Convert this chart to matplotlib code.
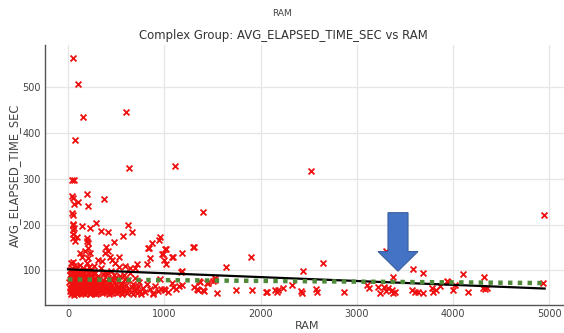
import matplotlib
matplotlib.use("Agg")
import matplotlib.pyplot as plt
from matplotlib.patches import FancyArrow

# ---- data ----
sparse_x = [52, 104, 156, 73, 602, 633, 1111, 40, 60, 2523,
            42, 52, 197, 104, 62, 208, 374, 42, 52, 52, 55, 60, 48, 50,
            145, 228, 291, 343, 415, 623, 664, 571, 197,
            52, 73, 94, 197, 208, 208, 228, 176, 478, 395, 415, 384, 436, 457,
            311, 530, 592, 716, 125, 145, 208, 353, 488, 644, 696,
            820, 945, 1007, 1090, 1184, 1308, 841, 872, 851, 987, 1184,
            1402, 955, 830, 1018, 976, 1298, 1080, 997, 1018, 1641, 1900, 1173,
            1360, 1454, 1527, 1527, 1308, 1350, 1402, 1547, 1745, 1911, 2066,
            883, 966, 1007, 1090, 1153, 1184, 1340, 1371, 1443, 1506, 1412,
            2648, 2440, 2326, 2056, 2150, 2170, 2180, 2233, 2420, 2430,
            2575, 2586, 2866, 3105, 3126, 3219, 3240, 3281, 3302, 3323,
            3364, 3375, 3396, 3375, 3300,
            3583, 3686, 4100, 4320, 4932, 3935, 3946, 3572, 3603, 3634, 3686,
            3780, 3790, 3821, 3863, 3998, 4018, 4154, 4310, 4330, 4351, 4943]
sparse_y = [565, 507, 435, 385, 446, 324, 328, 297, 297, 317,
            263, 259, 267, 250, 246, 241, 256, 226, 220, 202, 198, 193, 189, 180,
            196, 193, 204, 185, 183, 198, 183, 176, 170,
            170, 165, 172, 165, 159, 148, 137, 143, 161, 150, 143, 137, 128, 122,
            122, 128, 109, 113, 137, 128, 126, 120, 117, 104, 104,
            113, 167, 146, 128, 137, 150, 148, 159, 126, 135, 98,
            228, 172, 148, 146, 135, 150, 128, 122, 113, 107, 128, 96,
            76, 72, 78, 83, 63, 57, 57, 50, 57, 57, 52,
            50, 59, 57, 63, 65, 67, 59, 74, 72, 76, 54,
            115, 98, 67, 52, 57, 52, 57, 61, 54, 50,
            59, 52, 52, 67, 61, 63, 50, 63, 54, 61,
            57, 50, 52, 85, 143,
            102, 93, 91, 85, 72, 76, 74, 57, 52, 52, 50,
            61, 52, 57, 65, 57, 67, 52, 61, 59, 61, 222]

dense_x = [20, 25, 30, 35, 40, 45, 50, 55, 60, 65, 70, 75, 80, 85, 90, 95, 100,
           22, 28, 33, 38, 42, 48, 52, 58, 62, 68, 72, 78, 82, 88, 92, 98,
           105, 110, 115, 120, 125, 130, 135, 140, 145, 150, 155, 160, 165, 170,
           175, 180, 185, 190, 195, 200, 205, 210, 215, 220, 225, 230, 235, 240,
           245, 250, 255, 260, 265, 270, 275, 280, 285, 290, 295, 300, 310, 320,
           330, 340, 350, 360, 370, 380, 390, 400, 410, 420, 430, 440, 450, 460,
           470, 480, 490, 500, 510, 520, 530, 540, 550, 560, 570, 580, 590, 600,
           610, 620, 630, 640, 650, 660, 670, 680, 690, 700, 710, 720, 730, 740,
           750, 760, 780, 800, 820, 850, 880, 900, 930, 960, 1000, 1040, 1080, 1120,
           15, 18, 26, 32, 36, 44, 46, 54, 56, 64, 66, 74, 76, 84, 86, 94, 96,
           102, 108, 112, 118, 122, 128, 132, 138, 142, 148, 152, 158, 162, 168,
           172, 178, 182, 188, 192, 198, 202, 208, 212, 218, 222, 228, 232, 238,
           242, 248, 252, 258, 262, 268, 272, 278, 282, 288, 292, 298, 305, 315,
           325, 335, 345, 355, 365, 375, 385, 395, 405, 415, 425, 435, 445, 455,
           465, 475, 485, 495, 505, 515, 525, 535, 545, 555, 565, 575, 585, 595]
dense_y = [55, 62, 70, 48, 80, 58, 95, 66, 52, 110, 75, 60, 88, 50, 68, 105, 57,
           90, 115, 100, 64, 53, 72, 118, 84, 46, 92, 56, 70, 99, 62, 80, 48,
           74, 90, 55, 65, 112, 50, 83, 60, 96, 70, 54, 105, 62, 78,
           49, 88, 58, 68, 115, 52, 75, 63, 92, 56, 82, 47, 70, 100,
           60, 85, 54, 66, 110, 50, 76, 58, 95, 64, 48, 72, 88, 55,
           62, 105, 50, 78, 58, 68, 92, 53, 62, 80, 48, 57, 98, 66,
           52, 75, 60, 85, 50, 64, 108, 56, 72, 48, 60, 90, 55, 67,
           50, 78, 58, 95, 52, 63, 70, 48, 57, 84, 60, 50, 66, 75,
           55, 47, 62, 52, 70, 58, 48, 65, 55, 80, 60, 52, 72, 58,
           75, 100, 82, 58, 92, 68, 105, 50, 78, 62, 86, 98, 52, 74, 108, 58, 88,
           66, 50, 82, 100, 58, 72, 92, 54, 78, 62, 86, 50, 70, 96,
           58, 66, 52, 80, 100, 62, 88, 54, 70, 108, 64, 76, 58, 90,
           50, 68, 78, 60, 94, 56, 70, 84, 52, 62, 78, 58, 66, 50,
           80, 56, 70, 62, 92, 52, 66, 76, 58, 95, 64, 72, 50, 80,
           60, 90, 55, 68, 58, 76, 52, 62, 88, 60, 70, 52, 64, 80]

trend_x = [0, 4950]
trend_y = [102, 60]
model_x = [0, 4950]
model_y = [80, 72]

x_ticks = [0, 1000, 2000, 3000, 4000, 5000]
y_ticks = [100, 200, 300, 400, 500]

# ---- figure ----
fig = plt.figure(figsize=(5.64, 3.33), dpi=100)
ax = fig.add_axes([45 / 564, 28 / 333, 519 / 564, 260 / 333])

ax.scatter(dense_x + sparse_x, dense_y + sparse_y, marker="x", color="#f01010",
           s=18, linewidths=1.3, zorder=3)
ax.plot(trend_x, trend_y, color="black", lw=1.6, zorder=4)
ax.plot(model_x, model_y, color="#4e8a3a", lw=3.2, linestyle=(0, (1, 1.2)), zorder=5)

ax.add_patch(FancyArrow(3427, 226, 0, -128, width=208, head_width=415,
                        head_length=43, length_includes_head=True,
                        facecolor="#4472C4", edgecolor="#3a5f9e", lw=0.8, zorder=6))

ax.set_xlim(-239, 5151)
ax.set_ylim(24, 593)
ax.set_xticks(x_ticks)
ax.set_yticks(y_ticks)
ax.grid(True, color="#e6e6e6", lw=0.9)
ax.set_axisbelow(True)
for s in ["top", "right"]:
    ax.spines[s].set_visible(False)
for s in ["left", "bottom"]:
    ax.spines[s].set_color("#555555")
    ax.spines[s].set_linewidth(1.0)
ax.tick_params(length=0, labelsize=7, colors="#444444", pad=3)

ax.set_xlabel("RAM", fontsize=8, color="#444444")
ax.xaxis.set_label_coords((307 - 45) / 519, -(326 - 305) / 260)
ax.xaxis.label.set_va("center")
ax.set_ylabel("AVG_ELAPSED_TIME_SEC", fontsize=8.3, color="#444444", labelpad=1)
fig.text(282 / 564, 1 - 14 / 333, "RAM", fontsize=6.5, color="#444444",
         ha="center", va="center")
fig.text(283 / 564, 1 - 35 / 333, "Complex Group: AVG_ELAPSED_TIME_SEC vs RAM",
         fontsize=8.4, color="#333333", ha="center", va="center")

fig.savefig("out.png", dpi=100)
